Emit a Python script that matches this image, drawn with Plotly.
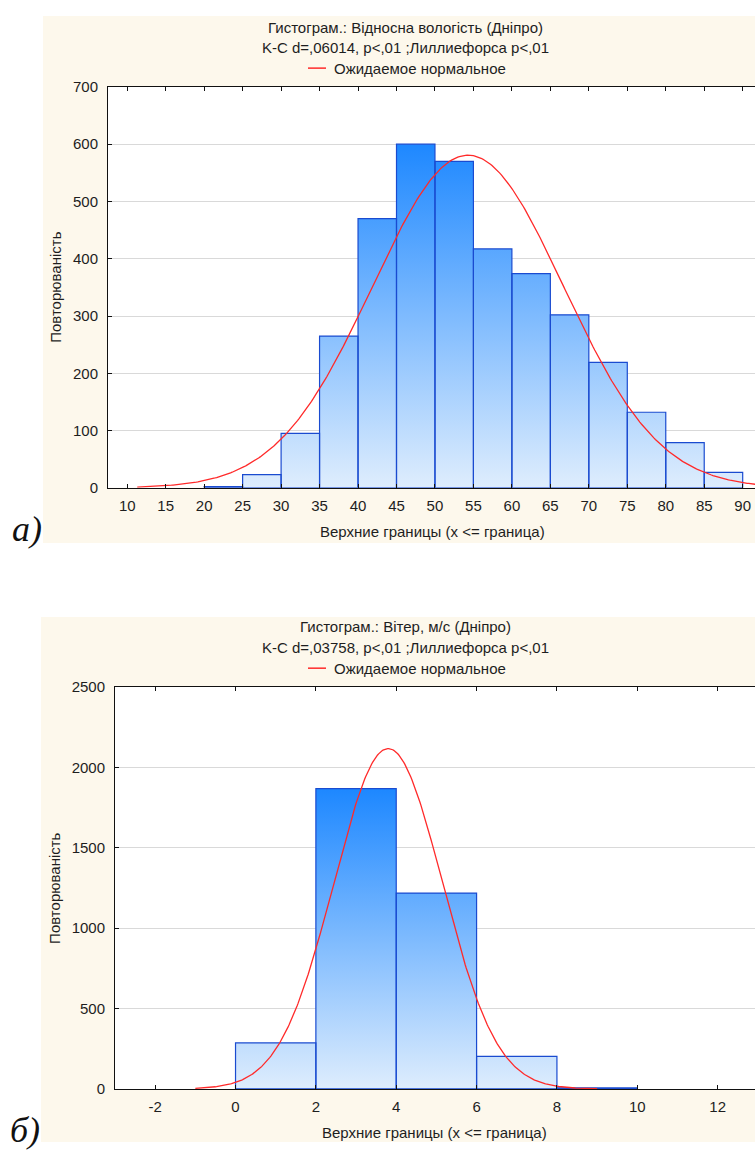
import numpy as np
import plotly.graph_objects as go

W, H = 755, 1158

# ---------------- data ----------------
hum_edges = [10, 15, 20, 25, 30, 35, 40, 45, 50, 55, 60, 65, 70, 75, 80, 85, 90]
hum_counts = [0, 0, 2, 23, 95, 265, 470, 600, 570, 417, 374, 302, 219, 132, 79, 27]
hum_mean, hum_sd, hum_n = 54.3, 12.4, 3610
hum_xticks = [10, 15, 20, 25, 30, 35, 40, 45, 50, 55, 60, 65, 70, 75, 80, 85, 90]
hum_yticks = [0, 100, 200, 300, 400, 500, 600, 700]

wind_edges = [0, 2, 4, 6, 8, 10]
wind_counts = [286, 1867, 1218, 202, 7]
wind_mean, wind_sd, wind_n = 3.8, 1.35, 3581
wind_xticks = [-2, 0, 2, 4, 6, 8, 10, 12]
wind_xtick_labels = ["-2", "0", "2", "4", "6", "8", "10", "12"]
wind_yticks = [0, 500, 1000, 1500, 2000, 2500]

title_hum = ["Гистограм.: Відносна вологість (Дніпро)",
             "K-C d=,06014, p<,01 ;Лиллиефорса p<,01"]
title_wind = ["Гистограм.: Вітер, м/с (Дніпро)",
              "K-C d=,03758, p<,01 ;Лиллиефорса p<,01"]
legend_text = "Ожидаемое нормальное"
xlabel = "Верхние границы (x <= граница)"
ylabel = "Повторюваність"

# ---------------- styles ----------------
FONT = "Liberation Sans, Arial, sans-serif"
TXT = "#1e1e1e"
BEIGE = "#fdf8ec"
BAR_EDGE = "#1a4bd0"
GRAD = [[0, "#e2effd"], [1, "#1e88ff"]]
RED = "#ff2a2a"


def px(x):
    return x / W


def py(y):
    return 1 - y / H


def bar_path(edges, counts):
    xs, ys = [], []
    for i, c in enumerate(counts):
        if c <= 0:
            continue
        l, r = edges[i], edges[i + 1]
        xs += [l, l, r, r, l, None]
        ys += [0, c, c, 0, 0, None]
    return xs, ys


def normal_curve(x0, x1, mean, sd, n, bw):
    x = np.linspace(x0, x1, 400)
    y = n * bw / (sd * np.sqrt(2 * np.pi)) * np.exp(-0.5 * ((x - mean) / sd) ** 2)
    return x, y


fig = go.Figure()

# top histogram
hx, hy = bar_path(hum_edges, hum_counts)
fig.add_trace(go.Scatter(
    x=hx, y=hy, mode="lines", fill="toself",
    fillgradient=dict(type="vertical", colorscale=GRAD, start=0, stop=max(hum_counts)),
    line=dict(color=BAR_EDGE, width=1.2), xaxis="x", yaxis="y", hoverinfo="skip"))
cx, cy = normal_curve(11.3, 92, hum_mean, hum_sd, hum_n, hum_edges[1] - hum_edges[0])
fig.add_trace(go.Scatter(x=cx, y=cy, mode="lines", line=dict(color=RED, width=1.3),
                         xaxis="x", yaxis="y", hoverinfo="skip"))

# bottom histogram
wx, wy = bar_path(wind_edges, wind_counts)
fig.add_trace(go.Scatter(
    x=wx, y=wy, mode="lines", fill="toself",
    fillgradient=dict(type="vertical", colorscale=GRAD, start=0, stop=max(wind_counts)),
    line=dict(color=BAR_EDGE, width=1.2), xaxis="x2", yaxis="y2", hoverinfo="skip"))
cx2, cy2 = normal_curve(-1.0, 9.0, wind_mean, wind_sd, wind_n, wind_edges[1] - wind_edges[0])
fig.add_trace(go.Scatter(x=cx2, y=cy2, mode="lines", line=dict(color=RED, width=1.3),
                         xaxis="x2", yaxis="y2", hoverinfo="skip"))

# geometry (pixels)
top_plot = dict(l=108, r=755, t=79, b=486)
bot_plot = dict(l=115, r=755, t=688, b=1096)

axis_common = dict(showline=True, linecolor="#111", linewidth=1, ticks="inside",
                   ticklen=4, tickcolor="#111", zeroline=False,
                   tickfont=dict(family=FONT, size=15, color=TXT))

fig.update_layout(
    width=W, height=H, margin=dict(l=0, r=0, t=0, b=0),
    paper_bgcolor="white", plot_bgcolor="white", showlegend=False,
    xaxis=dict(domain=[px(top_plot["l"]), px(top_plot["r"])], range=[7.5, 91.6],
               tickvals=hum_xticks, showgrid=False, mirror="ticks", anchor="y",
               ticklabelstandoff=4, **axis_common),
    yaxis=dict(domain=[py(top_plot["b"]), py(top_plot["t"])], range=[0, 700],
               tickvals=hum_yticks, showgrid=True, gridcolor="#d9d9d9", gridwidth=1,
               anchor="x", ticklabelstandoff=6, **axis_common),
    xaxis2=dict(domain=[px(bot_plot["l"]), px(bot_plot["r"])], range=[-3.0, 12.93],
                tickvals=wind_xticks, ticktext=wind_xtick_labels, showgrid=False,
                mirror="ticks", anchor="y2", ticklabelstandoff=4, **axis_common),
    yaxis2=dict(domain=[py(bot_plot["b"]), py(bot_plot["t"])], range=[0, 2500],
                tickvals=wind_yticks, showgrid=True, gridcolor="#d9d9d9", gridwidth=1,
                anchor="x2", ticklabelstandoff=6, **axis_common),
)

shapes = []
for (bx0, by0, bx1, by1), p in [((43, 7, 755, 542), top_plot), ((41, 617, 755, 1150), bot_plot)]:
    shapes.append(dict(type="rect", xref="paper", yref="paper", x0=px(bx0), x1=px(bx1),
                       y0=py(by1), y1=py(by0), fillcolor=BEIGE, line=dict(width=0),
                       layer="below"))
    shapes.append(dict(type="rect", xref="paper", yref="paper", x0=px(p["l"]), x1=px(p["r"]),
                       y0=py(p["b"]), y1=py(p["t"]), fillcolor="white", line=dict(width=0),
                       layer="below"))
# legend line samples
for ly in (60, 669):
    shapes.append(dict(type="line", xref="paper", yref="paper", x0=px(308), x1=px(326),
                       y0=py(ly), y1=py(ly), line=dict(color=RED, width=1.5)))
fig.update_layout(shapes=shapes)

ann = []


def text(x, y, s, size=15, xanchor="center", **kw):
    ann.append(dict(x=px(x), y=py(y), xref="paper", yref="paper", text=s, showarrow=False,
                    xanchor=xanchor, yanchor="middle",
                    font=dict(family=kw.pop("family", FONT), size=size, color=kw.pop("color", TXT)),
                    **kw))


# top titles
text(405, 19, title_hum[0])
text(405, 39, title_hum[1])
text(332, 60, legend_text, xanchor="left")
text(433, 530, xlabel)
text(56, 282, ylabel, textangle=-90)
# bottom titles
text(405, 627, title_wind[0])
text(405, 648, title_wind[1])
text(332, 669, legend_text, xanchor="left")
text(435, 1140, xlabel)
text(55, 892, ylabel, textangle=-90)
# panel labels
text(10, 528, "<i>a)</i>", size=36, xanchor="left", family="Liberation Serif, Times New Roman, serif", color="#111")
text(8, 1138, "<i>б)</i>", size=36, xanchor="left", family="Liberation Serif, Times New Roman, serif", color="#111")

fig.update_layout(annotations=ann)
fig.write_html("out.html")
